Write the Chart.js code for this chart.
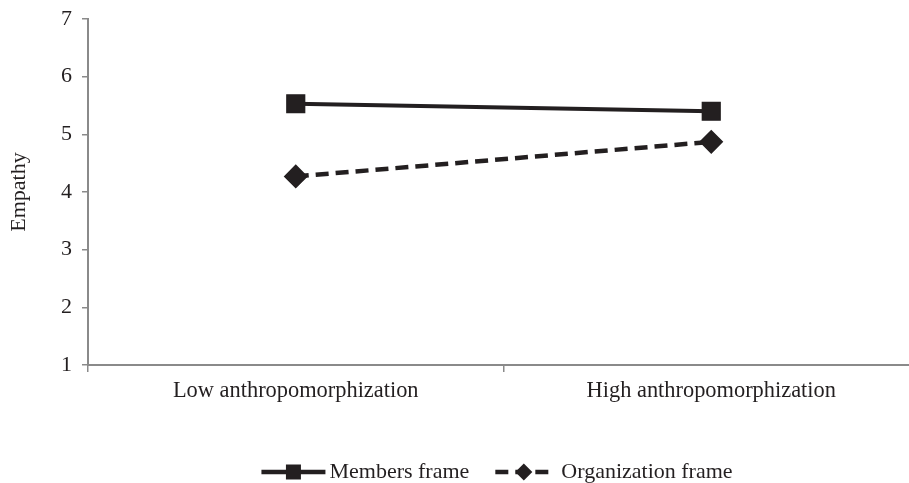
<!DOCTYPE html>
<html>
<head>
<meta charset="utf-8">
<script src="https://cdn.jsdelivr.net/npm/chart.js@4/dist/chart.umd.min.js"></script>
<style>
  html, body { margin: 0; padding: 0; background: #fff; overflow: hidden; }
  #wrap { position: relative; width: 933px; height: 483px; }
</style>
</head>
<body>
<div id="wrap"><canvas id="c"></canvas></div>
<script>
const categories = ['Low anthropomorphization', 'High anthropomorphization'];
const seriesNames = ['Members frame', 'Organization frame'];
const membersFrame = [5.53, 5.40];
const organizationFrame = [4.27, 4.87];
const yTicks = [1, 2, 3, 4, 5, 6, 7];
const yTitle = 'Empathy';

const INK = '#231f20';
const AXIS = '#8a8a8a';
const FONT = "'Liberation Serif', 'Times New Roman', serif";

const legendPlugin = {
  id: 'customLegend',
  afterDraw(chart) {
    const ctx = chart.ctx;
    const cy = 472;
    ctx.save();
    ctx.font = '22px ' + FONT;
    ctx.textBaseline = 'middle';
    ctx.fillStyle = INK;
    const items = chart.data.datasets.map((ds, i) => ({ ds, label: seriesNames[i] }));
    const sampleLens = [64, 57];
    const textGaps = [4, 9];
    const itemGap = 26;
    let total = 0;
    items.forEach((it, i) => {
      it.tw = ctx.measureText(it.label).width;
      total += sampleLens[i] + textGaps[i] + it.tw;
      if (i) total += itemGap;
    });
    let x = 497 - total / 2;
    items.forEach((it, i) => {
      const ds = it.ds;
      const L = sampleLens[i];
      ctx.strokeStyle = ds.borderColor;
      ctx.lineWidth = 4.5;
      ctx.setLineDash(ds.borderDash || []);
      ctx.beginPath();
      ctx.moveTo(x, cy);
      ctx.lineTo(x + L, cy);
      ctx.stroke();
      ctx.setLineDash([]);
      const mx = x + L / 2;
      ctx.fillStyle = ds.pointBackgroundColor;
      ctx.beginPath();
      if (ds.pointStyle === 'rect') {
        ctx.rect(mx - 7.5, cy - 7.5, 15, 15);
      } else {
        ctx.moveTo(mx, cy - 8.5);
        ctx.lineTo(mx + 8.5, cy);
        ctx.lineTo(mx, cy + 8.5);
        ctx.lineTo(mx - 8.5, cy);
        ctx.closePath();
      }
      ctx.fill();
      ctx.fillStyle = INK;
      ctx.fillText(it.label, x + L + textGaps[i], cy);
      x += L + textGaps[i] + it.tw + itemGap;
    });
    ctx.restore();
  }
};

new Chart(document.getElementById('c'), {
  type: 'line',
  data: {
    labels: categories,
    datasets: [
      {
        label: seriesNames[0],
        data: membersFrame,
        borderColor: INK,
        backgroundColor: INK,
        borderWidth: 4,
        pointStyle: 'rect',
        pointRadius: 12.5,
        pointBorderWidth: 1.5,
        pointBackgroundColor: INK,
        pointBorderColor: INK,
        tension: 0,
        fill: false
      },
      {
        label: seriesNames[1],
        data: organizationFrame,
        borderColor: INK,
        backgroundColor: INK,
        borderWidth: 4.5,
        borderDash: [13, 7],
        pointStyle: 'rectRot',
        pointRadius: 11,
        pointBorderWidth: 1.5,
        pointBackgroundColor: INK,
        pointBorderColor: INK,
        tension: 0,
        fill: false
      }
    ]
  },
  options: {
    responsive: true,
    maintainAspectRatio: false,
    animation: false,
    events: [],
    layout: { padding: { top: 19, right: 5, bottom: 78, left: 0 } },
    plugins: {
      legend: { display: false },
      tooltip: { enabled: false },
      title: { display: false }
    },
    scales: {
      x: {
        type: 'category',
        offset: true,
        grid: {
          offset: true,
          drawOnChartArea: false,
          drawTicks: true,
          tickLength: 7,
          color: AXIS,
          lineWidth: 1.5
        },
        border: { display: true, color: AXIS, width: 2 },
        ticks: {
          color: INK,
          font: { family: FONT, size: 22.4 },
          padding: 6,
          maxRotation: 0,
          autoSkip: false
        },
        afterFit(scale) { scale.height = 40; }
      },
      y: {
        type: 'linear',
        min: yTicks[0],
        max: yTicks[yTicks.length - 1],
        afterBuildTicks(scale) { scale.ticks = yTicks.map(v => ({ value: v })); },
        grid: {
          drawOnChartArea: false,
          drawTicks: true,
          tickLength: 6,
          color: AXIS,
          lineWidth: 1.5
        },
        border: { display: true, color: AXIS, width: 2 },
        ticks: {
          color: INK,
          font: { family: FONT, size: 22 },
          padding: 10
        },
        title: {
          display: true,
          text: yTitle,
          color: INK,
          font: { family: FONT, size: 22 },
          padding: { top: 6, bottom: 0 }
        },
        afterFit(scale) {
          scale.width = 88;
          scale.paddingTop = 0;
          scale.paddingBottom = 0;
        }
      }
    }
  },
  plugins: [legendPlugin]
});
</script>
</body>
</html>
